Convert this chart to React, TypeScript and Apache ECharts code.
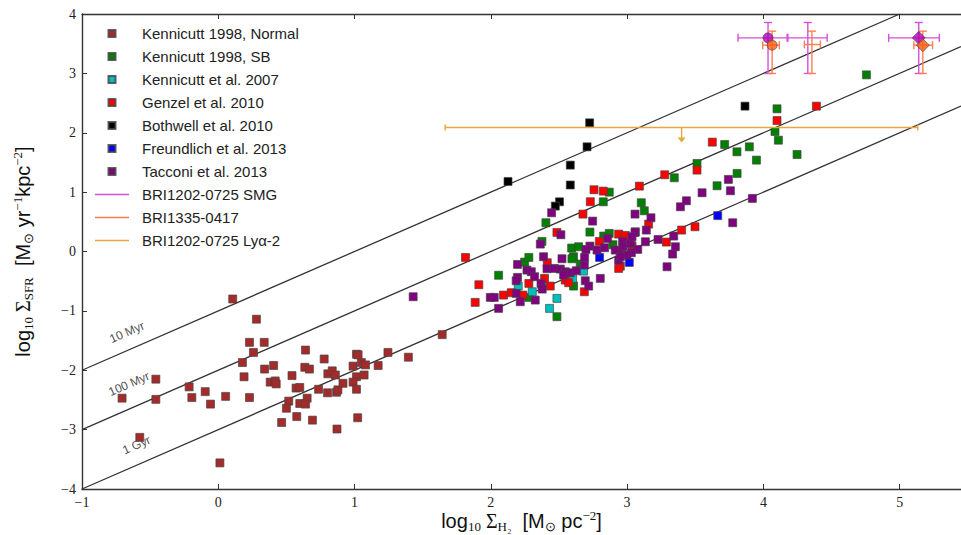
import { useEffect, useRef } from 'react';
import * as echarts from 'echarts';

// log10 Sigma_H2, log10 Sigma_SFR
const kennNormal: number[][] = [
  [0.106, -0.8], [0.28, -1.14], [0.229, -1.53], [0.337, -1.53], [0.177, -1.87], [0.258, -1.7],
  [0.189, -2.11], [0.34, -1.98], [0.406, -1.92], [0.381, -2.2], [0.418, -2.18], [0.425, -2.23],
  [0.541, -2.09], [0.64, -1.66], [0.635, -1.95], [0.669, -1.98], [0.777, -1.81], [0.571, -2.3],
  [0.598, -2.29], [0.736, -2.32], [0.652, -2.47], [0.517, -2.52], [0.598, -2.56], [0.64, -2.57],
  [0.5, -2.64], [0.576, -2.78], [0.465, -2.88], [0.691, -2.84], [0.804, -2.06], [0.836, -2.01],
  [0.859, -2.08], [0.802, -2.38], [0.868, -2.37], [0.878, -2.33], [0.915, -2.22], [0.871, -2.99],
  [0.989, -1.93], [1.014, -1.73], [1.026, -1.74], [1.05, -1.87], [1.08, -1.91], [1.014, -2.11],
  [0.989, -2.2], [1.014, -2.32], [1.07, -2.08], [1.023, -2.8], [1.173, -1.92], [1.245, -1.7],
  [1.395, -1.78], [1.643, -1.4], [-0.706, -2.47], [-0.458, -2.15], [-0.458, -2.49], [-0.214, -2.28],
  [-0.194, -2.46], [-0.096, -2.36], [-0.057, -2.57], [0.054, -2.44], [0.229, -2.46], [-0.576, -3.13],
  [0.012, -3.56],
];
const kennSB: number[][] = [
  [2.057, -0.4], [2.277, -0.773], [2.485, -1.098], [2.248, -0.178], [2.279, -0.1], [2.375, 0.17],
  [2.404, 0.484], [2.593, 0.058], [2.644, 0.08], [2.607, -0.088], [2.595, -0.122], [2.656, -0.212],
  [2.607, -0.582], [2.727, 0.327], [2.828, 0.26], [2.869, 0.305], [2.896, 0.114], [2.825, 0.837],
  [2.869, 1.0], [3.104, 0.821], [3.126, 0.686], [3.346, 1.242], [3.513, 1.483], [3.66, 1.107],
  [3.807, 1.315], [3.949, 1.539], [3.716, 1.802], [3.806, 1.679], [3.897, 1.763], [4.085, 2.021],
  [4.11, 1.875], [4.1, 2.403], [4.247, 1.634], [4.756, 2.975],
];
const kenn2007: number[][] = [
  [2.201, -0.582], [2.304, -0.678], [2.377, -0.565], [2.681, -0.33], [2.6, -0.453], [2.485, -0.79],
  [2.431, -0.958],
];
const genzel: number[][] = [
  [1.814, -0.1], [1.912, -0.56], [1.885, -0.857], [2.093, -0.734], [2.15, -0.694], [2.235, -0.734],
  [2.279, -0.537], [2.414, -0.189], [2.485, 0.321], [2.394, -0.453], [2.436, -0.582], [2.546, -0.481],
  [2.571, -0.526], [2.686, -0.678], [2.676, 0.63], [2.73, 0.838], [2.757, 1.04], [2.825, 1.017],
  [2.796, 0.17], [2.938, 0.293], [2.987, 0.27], [3.036, 0.096], [2.95, -0.246], [2.938, -0.285],
  [3.09, 1.101], [3.276, 1.292], [3.513, 1.371], [3.158, 0.462], [3.4, 0.361], [3.498, 0.417],
  [3.288, 0.159], [3.625, 1.842], [4.1, 2.206], [4.389, 2.448],
];
const bothwell: number[][] = [
  [2.126, 1.18], [2.583, 1.455], [2.583, 1.12], [2.504, 0.837], [2.473, 0.765], [2.725, 2.167],
  [2.706, 1.763], [3.865, 2.448],
];
const freundlich: number[][] = [[2.798, -0.1], [3.016, -0.184], [3.665, 0.604]];
const tacconi: number[][] = [
  [1.43, -0.762], [1.996, -0.773], [2.025, -0.773], [2.057, -0.958], [2.186, -0.706], [2.216, -0.846],
  [2.326, -0.818], [2.368, -0.537], [2.377, -0.633], [2.196, -0.436], [2.186, -0.492], [2.196, -0.218],
  [2.265, -0.313], [2.297, -0.341], [2.321, -0.425], [2.387, -0.088], [2.412, -0.29], [2.465, -0.285],
  [2.51, -0.296], [2.546, -0.341], [2.583, -0.358], [2.627, -0.324], [2.534, -0.397], [2.522, -0.122],
  [2.686, -0.229], [2.688, -0.1], [2.693, -0.492], [2.718, -0.582], [2.803, -0.453], [2.363, 0.125],
  [2.446, 0.652], [2.514, 0.282], [2.747, 0.512], [2.727, 0.091], [2.698, 0.035], [2.779, 0.024],
  [2.835, 0.063], [2.857, 0.22], [2.913, 0.024], [2.938, -0.144], [2.962, -0.032], [2.967, 0.17],
  [2.97, 0.091], [3.024, 0.136], [3.078, 0.035], [3.031, -0.021], [2.999, -0.06], [2.95, -0.088],
  [3.06, 0.332], [3.134, 0.164], [3.141, 0.361], [3.058, 0.63], [3.175, 0.568], [3.227, 0.203],
  [3.342, 0.26], [3.354, 0.08], [3.334, -0.043], [3.293, -0.257], [3.391, 0.753], [3.435, 0.854],
  [3.55, 0.989], [3.743, 1.214], [3.758, 1.023], [3.919, 0.894], [3.775, 0.484], [3.058, 0.321],
  [3.036, 0.248],
];

// high-z sources: [x, y, xLow, xHigh, yLow, yHigh]
const smgBars: number[][] = [
  [4.034, 3.598, 3.814, 4.18, 2.998, 3.857],
  [4.326, 3.598, 4.174, 4.468, 2.998, 3.857],
  [5.14, 3.598, 4.919, 5.291, 2.998, 3.857],
];
const smgMarkers: number[][] = [[4.034, 3.598], [5.14, 3.598]];
const bri1335Bars: number[][] = [
  [4.064, 3.475, 3.995, 4.117, 2.998, 3.711],
  [4.356, 3.486, 4.301, 4.418, 2.998, 3.711],
  [5.17, 3.475, 5.104, 5.241, 2.998, 3.711],
];
const bri1335Markers: number[][] = [[4.064, 3.475], [5.17, 3.475]];
const markerShapes = ['circle', 'diamond'];
// upper limit: [x, y, xLow, xHigh]
const lyaLimit: number[][] = [[3.4, 2.089, 1.665, 5.133]];

// constant depletion-time lines
const depletionLines: number[][][] = [
  [[-1, -2], [5, 4]],
  [[-1, -3], [5.45, 3.45]],
  [[-1, -4], [5.45, 2.45]],
];
const depletionNames = ['10 Myr', '100 Myr', '1 Gyr'];
const depletionLabelPos: number[][] = [[-0.67, -1.36], [-0.655, -2.23], [-0.6, -3.26]];

const legendNames = [
  'Kennicutt 1998, Normal', 'Kennicutt 1998, SB', 'Kennicutt et al. 2007', 'Genzel et al. 2010',
  'Bothwell et al. 2010', 'Freundlich et al. 2013', 'Tacconi et al. 2013',
  'BRI1202-0725 SMG', 'BRI1335-0417', 'BRI1202-0725 Lyα-2',
];
const pointSets = [kennNormal, kennSB, kenn2007, genzel, bothwell, freundlich, tacconi];
const pointColors = ['#a52a2a', '#008000', '#00bfbf', '#ff0000', '#000000', '#0000ff', '#800080'];
const smgColor = '#d64fd6';
const bri1335Color = '#ff7f50';
const lyaColor = '#e8a838';

const lineIcon = 'path://M0,0H34V1.4H0Z';
const squareIcon = 'path://M0,0H10V10H0Z';
const serif = 'Liberation Serif';
const sans = 'Liberation Sans';

const richName = {
  a: { fontFamily: sans, fontSize: 20, color: '#111', lineHeight: 24, verticalAlign: 'middle' },
  b: { fontFamily: serif, fontSize: 20, color: '#111', lineHeight: 24, verticalAlign: 'middle' },
  s: { fontFamily: serif, fontSize: 13, color: '#111', lineHeight: 12, verticalAlign: 'bottom' },
  p: { fontFamily: serif, fontSize: 13, color: '#111', lineHeight: 12, verticalAlign: 'top' },
};

const errorBars = (color: string) => (params: any, api: any) => {
  const x = api.value(0), y = api.value(1);
  const l = api.coord([api.value(2), y]);
  const r = api.coord([api.value(3), y]);
  const b = api.coord([x, api.value(4)]);
  const t = api.coord([x, api.value(5)]);
  const style = { stroke: color, lineWidth: 1.4 };
  const cap = 4;
  const seg = (x1: number, y1: number, x2: number, y2: number) =>
    ({ type: 'line', shape: { x1, y1, x2, y2 }, style });
  return {
    type: 'group',
    children: [
      seg(l[0], l[1], r[0], r[1]),
      seg(l[0], l[1] - cap, l[0], l[1] + cap),
      seg(r[0], r[1] - cap, r[0], r[1] + cap),
      seg(b[0], b[1], t[0], t[1]),
      seg(b[0] - cap, b[1], b[0] + cap, b[1]),
      seg(t[0] - cap, t[1], t[0] + cap, t[1]),
    ],
  };
};

const upperLimit = (color: string) => (params: any, api: any) => {
  const y = api.value(1);
  const c = api.coord([api.value(0), y]);
  const l = api.coord([api.value(2), y]);
  const r = api.coord([api.value(3), y]);
  const style = { stroke: color, lineWidth: 1.4 };
  const cap = 3;
  const len = 13;
  return {
    type: 'group',
    children: [
      { type: 'line', shape: { x1: l[0], y1: l[1], x2: r[0], y2: r[1] }, style },
      { type: 'line', shape: { x1: l[0], y1: l[1] - cap, x2: l[0], y2: l[1] + cap }, style },
      { type: 'line', shape: { x1: r[0], y1: r[1] - cap, x2: r[0], y2: r[1] + cap }, style },
      { type: 'line', shape: { x1: c[0], y1: c[1], x2: c[0], y2: c[1] + len }, style },
      {
        type: 'polygon',
        shape: { points: [[c[0] - 4, c[1] + len - 3], [c[0] + 4, c[1] + len - 3], [c[0], c[1] + len + 2]] },
        style: { fill: color },
      },
    ],
  };
};

const tickFmt = (v: number) => (Number.isInteger(v) ? String(v).replace('-', '−') : '');

const App = () => {
  const chartRef = useRef<HTMLDivElement>(null);

  useEffect(() => {
    document.body.style.margin = '0';
    if (!chartRef.current) return;
    const chart = echarts.init(chartRef.current, null, { renderer: 'svg' });

    const scatterSeries = pointSets.map((pts, i) => ({
      name: legendNames[i],
      type: 'scatter',
      data: pts,
      symbol: 'rect',
      symbolSize: 8,
      itemStyle: { color: pointColors[i], borderColor: 'rgba(70,70,70,0.85)', borderWidth: 0.8, opacity: 1 },
      z: 3,
    }));

    const option = {
      animation: false,
      grid: { left: 82, top: 14, right: 0, bottom: 46, outerBoundsMode: 'none', containLabel: false },
      legend: {
        orient: 'vertical',
        left: 95,
        top: 26,
        padding: 0,
        itemWidth: 34,
        itemHeight: 7,
        itemGap: 8,
        selectedMode: false,
        symbolKeepAspect: true,
        textStyle: { fontFamily: sans, fontSize: 15, color: '#222', lineHeight: 15, padding: [0, 0, 0, 8] },
        data: legendNames.map((n, i) => ({ name: n, icon: i < 7 ? squareIcon : lineIcon })),
      },
      xAxis: [
        {
          type: 'value', min: -1, max: 5.45, interval: 1,
          name: '{a|log}{s|10}{b| Σ}{s|H₂}{a|  [M}{s|⊙}{a| pc}{p|−2}{a|]}',
          nameLocation: 'middle', nameGap: 20, nameMoveOverlap: false,
          nameTextStyle: { rich: richName },
          axisLine: { onZero: false, lineStyle: { color: '#333', width: 1.4 } },
          axisTick: { inside: true, length: 5, lineStyle: { color: '#333' } },
          axisLabel: { formatter: tickFmt, showMaxLabel: false, fontFamily: serif, fontSize: 14, color: '#222', margin: 6 },
          splitLine: { show: false },
        },
        {
          type: 'value', position: 'top', min: -1, max: 5.45, interval: 1,
          axisLine: { onZero: false, lineStyle: { color: '#333', width: 1.4 } },
          axisTick: { inside: true, length: 5, lineStyle: { color: '#333' } },
          axisLabel: { show: false },
          splitLine: { show: false },
        },
      ],
      yAxis: {
        type: 'value', min: -4, max: 4, interval: 1,
        name: '{a|log}{s|10}{b| Σ}{s|SFR}{a|  [M}{s|⊙}{a| yr}{p|−1}{a|kpc}{p|−2}{a|]}',
        nameLocation: 'middle', nameGap: 47, nameRotate: 90,
        nameTextStyle: { rich: richName },
        axisLine: { onZero: false, lineStyle: { color: '#333', width: 1.4 } },
        axisTick: { inside: true, length: 5, lineStyle: { color: '#333' } },
        axisLabel: { formatter: tickFmt, fontFamily: serif, fontSize: 14, color: '#222', margin: 6 },
        splitLine: { show: false },
      },
      series: [
        ...depletionLines.map((pts, i) => ({
          name: depletionNames[i],
          type: 'line',
          data: pts,
          symbol: 'none',
          silent: true,
          lineStyle: { color: '#333', width: 1.3 },
          z: 2,
        })),
        {
          name: 'line labels',
          type: 'scatter',
          symbolSize: 0,
          silent: true,
          data: depletionLabelPos.map((p, i) => ({ value: p, label: { formatter: depletionNames[i] } })),
          label: { show: true, position: 'inside', rotate: 23.6, fontFamily: sans, fontSize: 12, color: '#222' },
        },
        ...scatterSeries,
        {
          name: legendNames[7],
          type: 'custom',
          data: smgBars,
          encode: { x: 0, y: 1 },
          renderItem: errorBars(smgColor),
          itemStyle: { color: smgColor },
          z: 4,
        },
        {
          name: legendNames[8],
          type: 'custom',
          data: bri1335Bars,
          encode: { x: 0, y: 1 },
          renderItem: errorBars(bri1335Color),
          itemStyle: { color: bri1335Color },
          z: 4,
        },
        {
          name: legendNames[9],
          type: 'custom',
          data: lyaLimit,
          encode: { x: 0, y: 1 },
          renderItem: upperLimit(lyaColor),
          itemStyle: { color: lyaColor },
          z: 4,
        },
        {
          name: 'SMG markers',
          type: 'scatter',
          data: smgMarkers.map((p, i) => ({ value: p, symbol: markerShapes[i], symbolSize: i ? 13 : 10 })),
          itemStyle: { color: '#b300b3', borderColor: '#444', borderWidth: 0.8 },
          z: 5,
        },
        {
          name: 'BRI1335 markers',
          type: 'scatter',
          data: bri1335Markers.map((p, i) => ({ value: p, symbol: markerShapes[i], symbolSize: i ? 13 : 10 })),
          itemStyle: { color: '#ff5a10', borderColor: '#444', borderWidth: 0.8 },
          z: 5,
        },
      ],
    };

    chart.setOption(option as any);
    return () => {
      chart.dispose();
    };
  }, []);

  return <div ref={chartRef} style={{ width: '961px', height: '535px' }} />;
};

export default App;
